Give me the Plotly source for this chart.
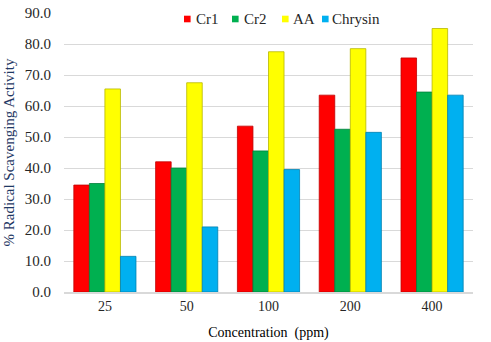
import plotly.graph_objects as go

categories = ["25", "50", "100", "200", "400"]
cr1 = [34.5, 42.0, 53.5, 63.5, 75.5]
cr2 = [35.0, 40.0, 45.5, 52.5, 64.5]
aa = [65.5, 67.5, 77.5, 78.5, 85.0]
chrysin = [11.5, 21.0, 39.5, 51.5, 63.5]
y_ticks = [0, 10, 20, 30, 40, 50, 60, 70, 80, 90]
y_tick_labels = [f"{v:.1f}" for v in y_ticks]

series_names = ["Cr1", "Cr2", "AA", "Chrysin"]
series_values = [cr1, cr2, aa, chrysin]
series_colors = ["#FF0000", "#00B050", "#FFFF00", "#00B0F0"]
series_edges = ["#C00000", "#00803A", "#B8B800", "#0080B0"]

W, H = 491, 342
ML, MR, MT, MB = 64, 18, 13, 50
PW, PH = W - ML - MR, H - MT - MB


def px_x(px):
    return (px - ML) / PW


def px_y(py):
    return (H - MB - py) / PH


fig = go.Figure()
for name, vals, col, edge in zip(series_names, series_values, series_colors, series_edges):
    fig.add_trace(go.Bar(
        x=categories, y=vals, name=name, showlegend=False,
        marker=dict(color=col, line=dict(color=edge, width=0.8)),
    ))

serif = "Liberation Serif, Times New Roman, serif"

# legend drawn as small squares + labels (compact Excel-style legend)
legend_sq_px = [184, 232, 282, 322]
legend_txt_px = [194, 242, 291, 330]
leg_y = 19
half = 3.3
shapes = []
annotations = []
for name, col, sx, tx in zip(series_names, series_colors, legend_sq_px, legend_txt_px):
    shapes.append(dict(type="rect", xref="paper", yref="paper",
                       x0=px_x(sx), x1=px_x(sx + 2 * half),
                       y0=px_y(leg_y + half), y1=px_y(leg_y - half),
                       fillcolor=col, line=dict(width=0)))
    annotations.append(dict(xref="paper", yref="paper", x=px_x(tx), y=px_y(leg_y),
                            xanchor="left", yanchor="middle", showarrow=False,
                            text=name, font=dict(family=serif, size=15, color="#262626")))

fig.update_layout(
    width=W, height=H,
    margin=dict(l=ML, r=MR, t=MT, b=MB, autoexpand=False),
    paper_bgcolor="white", plot_bgcolor="white",
    barmode="group", bargap=0.24, bargroupgap=0.0,
    font=dict(family=serif, size=14, color="#262626"),
    showlegend=False,
    shapes=shapes, annotations=annotations,
    xaxis=dict(
        type="category", showgrid=False, zeroline=False, automargin=False,
        showline=True, linecolor="#D9D9D9", linewidth=2,
        tickfont=dict(family=serif, size=14, color="#262626"),
        ticks="", ticklen=0,
        title=dict(text="Concentration  (ppm)", font=dict(family=serif, size=14, color="#000000"), standoff=14),
    ),
    yaxis=dict(
        range=[0, 90], tickvals=y_ticks, ticktext=y_tick_labels, automargin=False,
        showgrid=True, gridcolor="#D9D9D9", gridwidth=1,
        zeroline=False, showline=False,
        tickfont=dict(family=serif, size=15, color="#262626"),
        ticks="", ticklabelstandoff=12,
        title=dict(text="% Radical Scavenging Activity", font=dict(family=serif, size=15, color="#1F3864"), standoff=6),
    ),
)

fig.write_html("out.html", config={"displayModeBar": False})

# remove the default page margin so the figure sits at the window's top-left
with open("out.html", "r", encoding="utf-8") as f:
    html = f.read()
html = html.replace("<head>", "<head><style>html,body{margin:0;padding:0;overflow:hidden;}</style>", 1)
with open("out.html", "w", encoding="utf-8") as f:
    f.write(html)
